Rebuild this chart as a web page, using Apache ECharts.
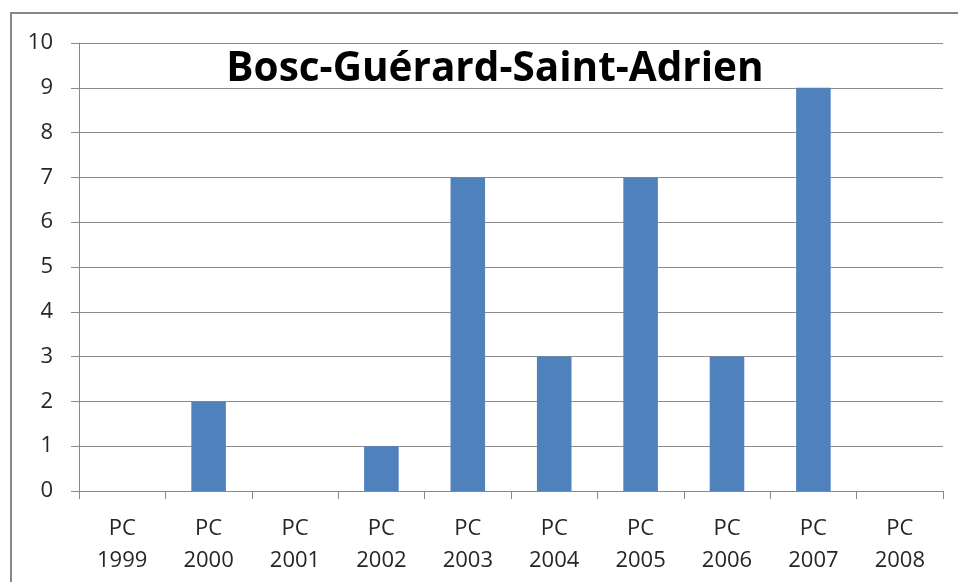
<!DOCTYPE html>
<html>
<head>
<meta charset="utf-8">
<script src="https://cdn.jsdelivr.net/npm/echarts@6/dist/echarts.min.js"></script>
<style>
  html, body { margin: 0; padding: 0; background: #fff; }
  #chart { width: 958px; height: 582px; }
</style>
</head>
<body>
<div id="chart"></div>
<script>
// Building-permit counts per year
const categories = ['PC\n1999', 'PC\n2000', 'PC\n2001', 'PC\n2002', 'PC\n2003',
                    'PC\n2004', 'PC\n2005', 'PC\n2006', 'PC\n2007', 'PC\n2008'];
const permits = [0, 2, 0, 1, 7, 3, 7, 3, 9, 0];
const yTicks = { min: 0, max: 10, interval: 1 };
const titleText = 'Bosc-Guérard-Saint-Adrien';

const chart = echarts.init(document.getElementById('chart'), null, { renderer: 'canvas' });

const labelFont = { fontFamily: 'Open Sans', fontSize: 22, color: '#262626' };

chart.setOption({
  animation: false,
  backgroundColor: '#fff',
  title: {
    text: titleText,
    left: 490,
    textAlign: 'center',
    top: 44,
    textStyle: { fontFamily: 'Open Sans', fontWeight: 'bold', fontSize: 40.5, color: '#000' }
  },
  graphic: [{
    type: 'rect',
    shape: { x: 11, y: 13, width: 1000, height: 700 },
    style: { fill: 'none', stroke: '#878787', lineWidth: 2 },
    silent: true
  }],
  grid: { left: 79, top: 43, right: 15, bottom: 91, containLabel: false },
  xAxis: {
    type: 'category',
    data: categories,
    axisLine: { lineStyle: { color: '#888', width: 1 } },
    axisTick: { show: true, length: 8, lineStyle: { color: '#888' } },
    axisLabel: Object.assign({ margin: 22, lineHeight: 32 }, labelFont)
  },
  yAxis: {
    type: 'value',
    min: yTicks.min,
    max: yTicks.max,
    interval: yTicks.interval,
    axisLine: { show: true, lineStyle: { color: '#888', width: 1 } },
    axisTick: { show: true, length: 8, lineStyle: { color: '#888' } },
    splitLine: { lineStyle: { color: '#8c8c8c', width: 1 } },
    axisLabel: Object.assign({ margin: 26 }, labelFont)
  },
  series: [{
    type: 'bar',
    data: permits,
    barWidth: '40%',
    itemStyle: { color: '#4F81BD' }
  }]
});
</script>
</body>
</html>
